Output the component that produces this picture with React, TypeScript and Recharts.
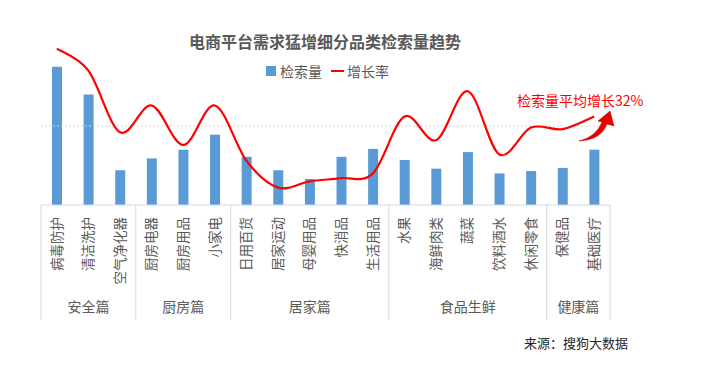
import React from 'react';
import { ComposedChart, Bar, Line, XAxis, YAxis, ReferenceLine } from 'recharts';

const CATEGORIES = [
  '病毒防护', '清洁洗护', '空气净化器',
  '厨房电器', '厨房用品', '小家电',
  '日用百货', '居家运动', '母婴用品', '快消品', '生活用品',
  '水果', '海鲜肉类', '蔬菜', '饮料酒水', '休闲零食',
  '保健品', '基础医疗',
];
const SEARCH_VOLUME = [175, 140, 44, 59, 70, 89, 61, 44, 33, 61, 71, 57, 46, 67, 40, 43, 47, 70];
const GROWTH_RATE = [99, 85, 46, 63, 38, 63, 28, 11, 15, 17, 20, 56, 41, 72, 32, 49, 48, 56];
const GROUP_NAMES = ['安全篇', '厨房篇', '居家篇', '食品生鲜', '健康篇'];
const GROUP_SIZES = [3, 3, 5, 5, 2];

const W = 703;
const H = 367;
const MARGIN = { top: 47, right: 93, bottom: 0, left: 41 };
const BW = (W - MARGIN.left - MARGIN.right) / CATEGORIES.length;
const FONT = '"Noto Sans CJK SC", "Noto Sans", sans-serif';
const GREY = '#595959';
const AXIS = '#d9d9d9';

const data = CATEGORIES.map((name, i) => ({
  name,
  volume: SEARCH_VOLUME[i],
  growth: GROWTH_RATE[i],
}));

// excel-like smoothing (catmull-rom)
function smoothCurve(context: any) {
  let pts: number[][] = [];
  return {
    areaStart() {},
    areaEnd() {},
    lineStart() { pts = []; },
    lineEnd() {
      if (!pts.length) return;
      context.moveTo(pts[0][0], pts[0][1]);
      for (let i = 0; i < pts.length - 1; i++) {
        const p0 = pts[Math.max(i - 1, 0)];
        const p1 = pts[i];
        const p2 = pts[i + 1];
        const p3 = pts[Math.min(i + 2, pts.length - 1)];
        context.bezierCurveTo(
          p1[0] + (p2[0] - p0[0]) / 6, p1[1] + (p2[1] - p0[1]) / 6,
          p2[0] - (p3[0] - p1[0]) / 6, p2[1] - (p3[1] - p1[1]) / 6,
          p2[0], p2[1],
        );
      }
    },
    point(x: number, y: number) { pts.push([+x, +y]); },
  };
}

function CategoryTick(props: any) {
  const { x, y, payload } = props;
  const i = payload.index ?? props.index;
  let start = 0;
  let g = 0;
  while (g < GROUP_SIZES.length - 1 && i >= start + GROUP_SIZES[g]) {
    start += GROUP_SIZES[g];
    g++;
  }
  const left = x - BW / 2;
  const isFirst = i === start;
  const isLast = i === CATEGORIES.length - 1;
  const ty = y + 12;
  return (
    <g>
      <text
        x={x}
        y={ty}
        dy="0.35em"
        transform={`rotate(-90 ${x} ${ty})`}
        textAnchor="end"
        fontSize={13.5}
        fill={GREY}
        fontFamily={FONT}
      >
        {payload.value}
      </text>
      {isFirst && <line x1={left} x2={left} y1={y} y2={y + 115} stroke={AXIS} />}
      {isFirst && (
        <text
          x={left + (GROUP_SIZES[g] * BW) / 2}
          y={y + 102}
          dy="0.35em"
          textAnchor="middle"
          fontSize={14}
          fill={GREY}
          fontFamily={FONT}
        >
          {GROUP_NAMES[g]}
        </text>
      )}
      {isLast && <line x1={x + BW / 2} x2={x + BW / 2} y1={y} y2={y + 115} stroke={AXIS} />}
    </g>
  );
}

export default function App() {
  return (
    <div style={{ position: 'relative', width: W, height: H, background: '#fff', fontFamily: FONT }}>
      <style>{'body{margin:0}'}</style>
      <div style={{ position: 'absolute', left: 0, width: 650, top: 32, textAlign: 'center', fontSize: 16, fontWeight: 700, color: GREY, lineHeight: '18px' }}>
        电商平台需求猛增细分品类检索量趋势
      </div>
      <div style={{ position: 'absolute', left: 266, top: 63, display: 'flex', alignItems: 'center', fontSize: 14, color: GREY, lineHeight: '16px' }}>
        <span style={{ width: 10, height: 10, background: '#5B9BD5', display: 'inline-block', marginRight: 4 }} />
        <span>检索量</span>
        <span style={{ width: 13, height: 2, background: '#ff0000', display: 'inline-block', margin: '0 3px 0 9px' }} />
        <span>增长率</span>
      </div>
      <ComposedChart width={W} height={H} data={data} margin={MARGIN}>
        <XAxis
          dataKey="name"
          interval={0}
          height={162}
          tickLine={false}
          tickSize={0}
          tickMargin={0}
          axisLine={{ stroke: AXIS }}
          tick={<CategoryTick />}
        />
        <YAxis yAxisId="v" hide domain={[0, 200]} />
        <YAxis yAxisId="g" hide orientation="right" domain={[0, 100]} />
        <ReferenceLine yAxisId="v" y={100} stroke={AXIS} strokeDasharray="2 2" />
        <Bar yAxisId="v" dataKey="volume" fill="#5B9BD5" barSize={10} isAnimationActive={false} />
        <Line
          yAxisId="g"
          dataKey="growth"
          type={smoothCurve as any}
          stroke="#ff0000"
          strokeWidth={2.2}
          dot={false}
          activeDot={false}
          isAnimationActive={false}
        />
      </ComposedChart>
      <div style={{ position: 'absolute', left: 517, top: 92, fontSize: 14, color: '#ff0000', lineHeight: '16px', whiteSpace: 'nowrap' }}>
        检索量平均增长32%
      </div>
      <svg style={{ position: 'absolute', left: 0, top: 0 }} width={W} height={H} pointerEvents="none">
        <path
          d="M579 141 Q596 137 602 122 L598 121 L610 111 L614 126 L607 124 Q601 140 579 141 Z"
          fill="#e60000"
          stroke="#b00000"
          strokeWidth={0.5}
        />
      </svg>
      <div style={{ position: 'absolute', left: 524, top: 335, fontSize: 13, color: '#262626', lineHeight: '15px', whiteSpace: 'nowrap' }}>
        来源：搜狗大数据
      </div>
    </div>
  );
}
